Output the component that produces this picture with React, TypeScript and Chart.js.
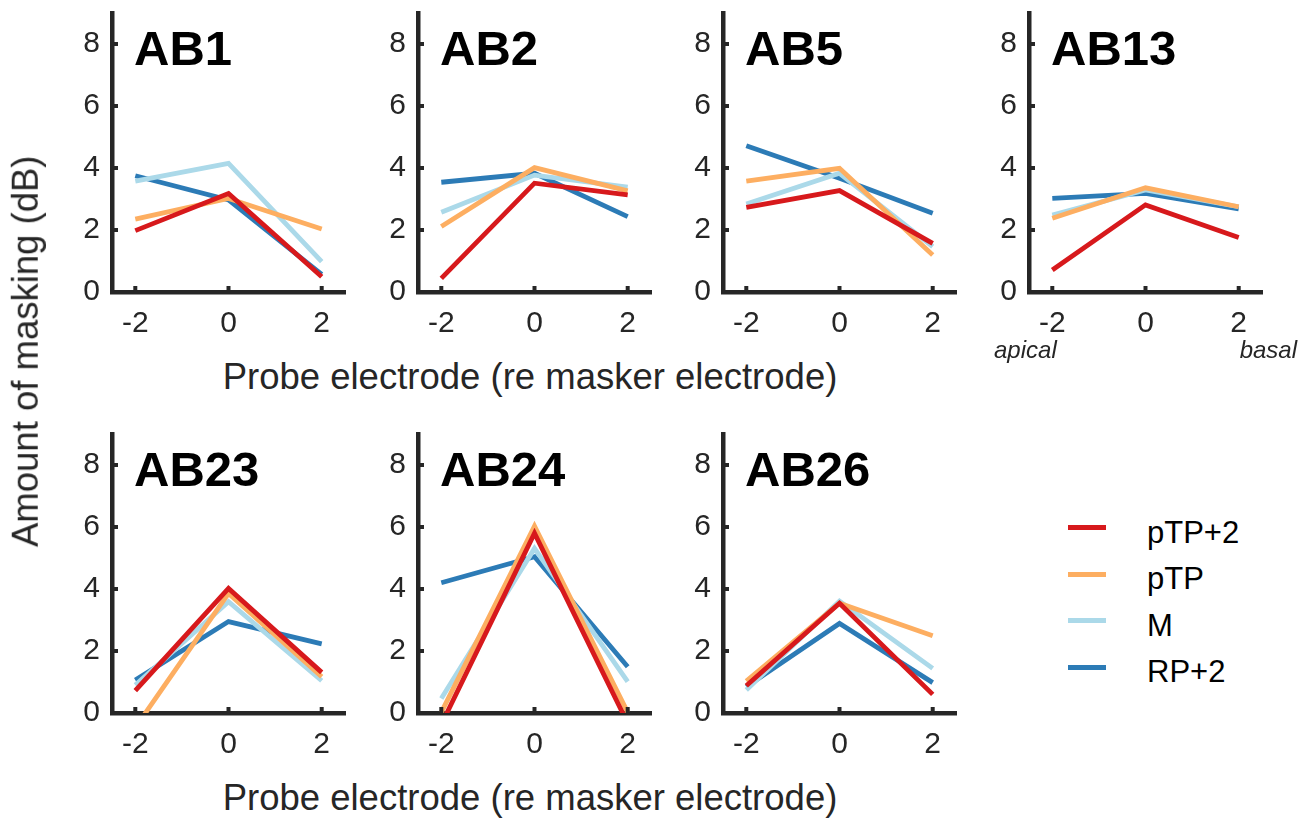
import React, { useEffect, useRef } from "react";
import { Chart, registerables } from "chart.js";

Chart.register(...registerables);

// ---------- data ----------
const panelNames = ["AB1", "AB2", "AB5", "AB13", "AB23", "AB24", "AB26"];
const probeElectrodes = [-2, 0, 2];
const xTickValues = [-2, 0, 2];
const yTickValues = [0, 2, 4, 6, 8];
const seriesNames = ["pTP+2", "pTP", "M", "RP+2"];

// amount of masking (dB) per panel, at probe -2, 0, 2
const pTP2Values = [
  [1.98, 3.18, 0.49],
  [0.44, 3.51, 3.13],
  [2.73, 3.27, 1.57],
  [0.71, 2.81, 1.76],
  [0.72, 4.02, 1.31],
  [-0.37, 5.8, -0.33],
  [0.88, 3.54, 0.6],
];
const pTPValues = [
  [2.35, 3.02, 2.03],
  [2.11, 4.01, 3.26],
  [3.58, 3.99, 1.19],
  [2.38, 3.36, 2.75],
  [-0.47, 3.86, 1.17],
  [0.02, 6.03, 0.02],
  [1.03, 3.54, 2.49],
];
const mValues = [
  [3.58, 4.15, 0.98],
  [2.57, 3.77, 3.38],
  [2.84, 3.83, 1.46],
  [2.48, 3.29, 2.75],
  [0.9, 3.59, 1.04],
  [0.47, 5.31, 1.01],
  [0.74, 3.61, 1.44],
];
const rp2Values = [
  [3.75, 2.97, 0.57],
  [3.54, 3.83, 2.43],
  [4.72, 3.67, 2.54],
  [3.02, 3.18, 2.68],
  [1.06, 2.95, 2.23],
  [4.2, 5.04, 1.49],
  [0.85, 2.89, 0.98],
];
const seriesValues = [pTP2Values, pTPValues, mValues, rp2Values];

// ---------- styles / layout ----------
const seriesColors = ["#d7191c", "#fdae61", "#abd9e9", "#2c7bb6"];
const AXIS = "#262626";
const FONT = "'Liberation Sans', Arial, Helvetica, sans-serif";
const panelLeft = [112, 418, 723, 1029, 112, 418, 723];
const panelRow = [0, 0, 0, 0, 1, 1, 1];
const rowTop = [13, 434];
const plotW = 233;
const plotH = 279;
const padLeft = 70;
const padTop = 10;
const padRight = 15;
const padBottom = 60;

const panelPlugin = {
  id: "panelDecor",
  afterDraw(chart: any, _args: any, opts: any) {
    const { ctx, chartArea, scales } = chart;
    ctx.save();
    // inward tick marks
    ctx.strokeStyle = AXIS;
    ctx.lineWidth = 4;
    ctx.lineCap = "butt";
    for (const v of xTickValues) {
      const x = scales.x.getPixelForValue(v);
      ctx.beginPath();
      ctx.moveTo(x, chartArea.bottom);
      ctx.lineTo(x, chartArea.bottom - 6);
      ctx.stroke();
    }
    for (const v of yTickValues) {
      const y = scales.y.getPixelForValue(v);
      ctx.beginPath();
      ctx.moveTo(chartArea.left, y);
      ctx.lineTo(chartArea.left + 6, y);
      ctx.stroke();
    }
    // panel title
    ctx.fillStyle = "#000";
    ctx.font = `bold 49px ${FONT}`;
    ctx.textAlign = "left";
    ctx.textBaseline = "alphabetic";
    ctx.fillText(opts.text || "", chartArea.left + 22, chartArea.top + 52);
    ctx.restore();
  },
};

function Panel({ index }: { index: number }) {
  const ref = useRef<HTMLCanvasElement | null>(null);
  const width = padLeft + plotW + padRight;
  const height = padTop + plotH + padBottom;
  const left = panelLeft[index] - padLeft;
  const top = rowTop[panelRow[index]] - padTop;

  useEffect(() => {
    if (!ref.current) return;
    const datasets = seriesNames.map((name, s) => ({
      label: name,
      data: probeElectrodes.map((x, i) => ({ x, y: seriesValues[s][index][i] })),
      borderColor: seriesColors[s],
      backgroundColor: seriesColors[s],
      borderWidth: 4.8,
      pointRadius: 0,
      pointHoverRadius: 0,
      tension: 0,
      fill: false,
      clip: 0,
    }));
    const chart = new Chart(ref.current, {
      type: "line",
      data: { datasets },
      plugins: [panelPlugin],
      options: {
        animation: false,
        responsive: false,
        maintainAspectRatio: false,
        events: [],
        layout: { padding: { left: 0, top: padTop, right: padRight, bottom: 0 } },
        plugins: {
          legend: { display: false },
          tooltip: { enabled: false },
          title: { display: false },
          panelDecor: { text: panelNames[index] },
        } as any,
        scales: {
          x: {
            type: "linear",
            min: -2.5,
            max: 2.5,
            afterBuildTicks: (s: any) => {
              s.ticks = xTickValues.map((v) => ({ value: v }));
            },
            afterFit: (s: any) => {
              s.height = padBottom;
              s.paddingLeft = 0;
              s.paddingRight = 0;
            },
            grid: { display: false, drawTicks: false },
            border: { display: true, color: AXIS, width: 4.5 },
            ticks: {
              color: AXIS,
              font: { family: FONT, size: 30 },
              padding: 14,
              maxRotation: 0,
              autoSkip: false,
              callback: (v: any) => String(v),
            },
          },
          y: {
            type: "linear",
            min: 0,
            max: 9,
            afterBuildTicks: (s: any) => {
              s.ticks = yTickValues.map((v) => ({ value: v }));
            },
            afterFit: (s: any) => {
              s.width = padLeft;
              s.paddingTop = 0;
              s.paddingBottom = 0;
            },
            grid: { display: false, drawTicks: false },
            border: { display: true, color: AXIS, width: 4.5 },
            ticks: {
              color: AXIS,
              font: { family: FONT, size: 30 },
              padding: 12,
              autoSkip: false,
              callback: (v: any) => String(v),
            },
          },
        },
      },
    } as any);
    return () => chart.destroy();
  }, [index]);

  return (
    <canvas
      ref={ref}
      width={width}
      height={height}
      style={{ position: "absolute", left, top, width, height }}
    />
  );
}

const xTitle = "Probe electrode (re masker electrode)";
const yTitle = "Amount of masking (dB)";
const TITLE_FS = 36.5;

export default function App() {
  const legendY = [527.7, 574.3, 620.7, 667];
  return (
    <div
      style={{
        position: "absolute",
        left: 0,
        top: 0,
        width: 1309,
        height: 820,
        background: "#fff",
        overflow: "hidden",
        fontFamily: FONT,
      }}
    >
      {panelNames.map((_, i) => (
        <Panel key={i} index={i} />
      ))}
      {/* x axis titles */}
      {[359, 780].map((t, i) => (
        <div
          key={"xt" + i}
          style={{
            position: "absolute",
            left: 530 - 400,
            top: t,
            width: 800,
            textAlign: "center",
            fontSize: TITLE_FS,
            lineHeight: TITLE_FS + "px",
            color: AXIS,
            whiteSpace: "nowrap",
          }}
        >
          {xTitle}
        </div>
      ))}
      {/* y axis title */}
      <div
        style={{
          position: "absolute",
          left: 25.6 - 300,
          top: 351 - TITLE_FS / 2,
          width: 600,
          height: TITLE_FS,
          textAlign: "center",
          fontSize: TITLE_FS,
          lineHeight: TITLE_FS + "px",
          color: AXIS,
          whiteSpace: "nowrap",
          transform: "rotate(-90deg)",
        }}
      >
        {yTitle}
      </div>
      {/* apical / basal */}
      <div
        style={{
          position: "absolute",
          left: 994,
          top: 338,
          fontSize: 24,
          lineHeight: "24px",
          fontStyle: "italic",
          color: AXIS,
        }}
      >
        apical
      </div>
      <div
        style={{
          position: "absolute",
          left: 1197,
          width: 100,
          textAlign: "right",
          top: 338,
          fontSize: 24,
          lineHeight: "24px",
          fontStyle: "italic",
          color: AXIS,
        }}
      >
        basal
      </div>
      {/* legend */}
      {seriesNames.map((name, s) => (
        <React.Fragment key={"lg" + s}>
          <div
            style={{
              position: "absolute",
              left: 1068,
              top: legendY[s] - 2.5,
              width: 38,
              height: 5,
              background: seriesColors[s],
            }}
          />
          <div
            style={{
              position: "absolute",
              left: 1147,
              top: legendY[s] + 15 - 26.2,
              fontSize: 31,
              lineHeight: "31px",
              color: "#000",
              whiteSpace: "nowrap",
            }}
          >
            {name}
          </div>
        </React.Fragment>
      ))}
    </div>
  );
}
